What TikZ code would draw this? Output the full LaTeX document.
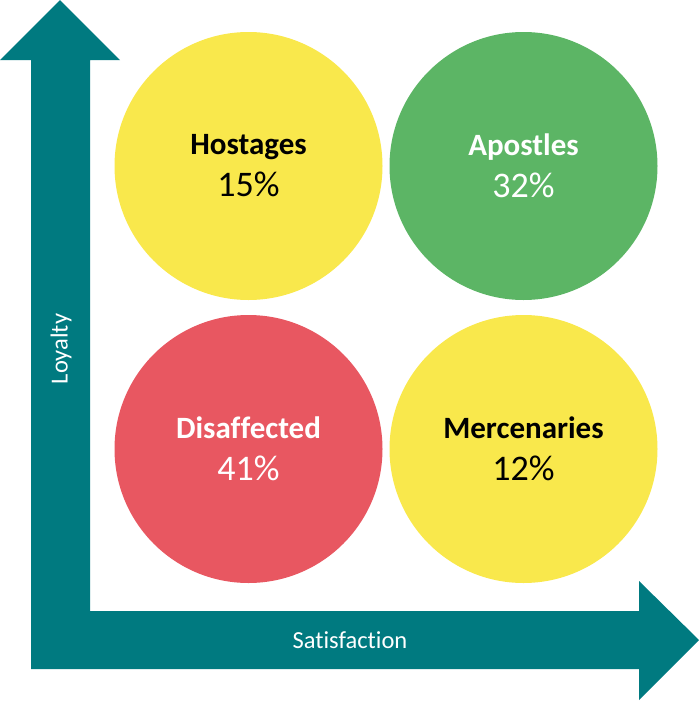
\documentclass[tikz,border=0pt]{standalone}
\usepackage{fontspec}
\setmainfont{Carlito}[Ligatures=NoCommon]
\usepackage{tikz}
\usetikzlibrary{positioning}
\definecolor{AxisTeal}{HTML}{007A80}
\definecolor{SegYellow}{HTML}{F9E84C}
\definecolor{SegGreen}{HTML}{5CB565}
\definecolor{SegRed}{HTML}{E85761}
\newcommand{\segfont}{\fontsize{31}{42}\selectfont\bfseries}

\begin{document}
\begin{tikzpicture}[x=1pt,y=-1pt,
      seg/.style={circle,minimum size=268pt,inner sep=0pt,align=center,
      font=\fontsize{36}{42}\selectfont},
      axislabel/.style={font=\fontsize{24.5}{28}\selectfont,text=white}]
      \useasboundingbox (0,0) rectangle (700,702);
      % L-shaped axis arrow
      \fill[AxisTeal] (0,60) -- (60,0) -- (120,60) -- (90,60) -- (90,611)
        -- (639,611) -- (639,581) -- (699,640) -- (639,700) -- (639,669)
        -- (31,669) -- (31,60) -- cycle;
      \node[axislabel,rotate=90] (loyalty) at (61,349) {Loyalty};
      \node[axislabel] (satisfaction) at (350,640) {Satisfaction};
      % segments
      \node[seg,fill=SegYellow] (hostages) at (248.5,166) {{\segfont Hostages}\\15\%};
      \node[seg,fill=SegGreen,text=white] (apostles) at (523.5,166) {{\segfont Apostles}\\32\%};
      \node[seg,fill=SegRed,text=white] (disaffected) at (248.5,449) {{\segfont Disaffected}\\41\%};
      \node[seg,fill=SegYellow] (mercenaries) at (523.5,449) {{\segfont Mercenaries}\\12\%};
    \end{tikzpicture}
\end{document}
